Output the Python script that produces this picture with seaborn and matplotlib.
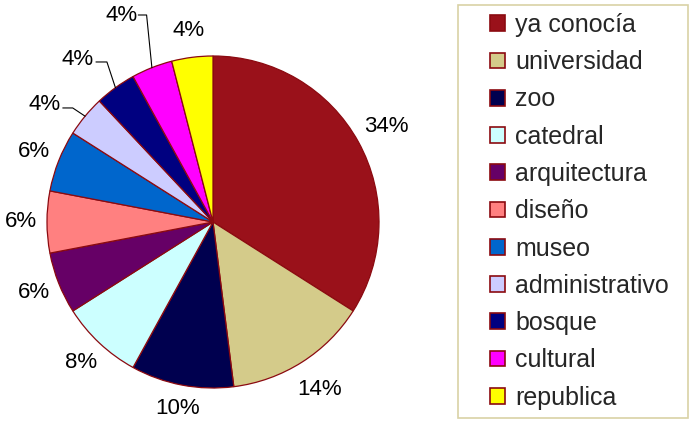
import numpy as np
import matplotlib
matplotlib.use("Agg")
import matplotlib.pyplot as plt
from matplotlib.patches import Patch, Rectangle
import seaborn as sns

categories = ["ya conocía", "universidad", "zoo", "catedral", "arquitectura", "diseño",
              "museo", "administrativo", "bosque", "cultural", "republica"]
values = [34, 14, 10, 8, 6, 6, 6, 4, 4, 4, 4]
colors = ["#9A111A", "#D4CB8A", "#00004F", "#CCFFFF", "#660066", "#FF8080",
          "#0066CC", "#CCCCFF", "#000080", "#FF00FF", "#FFFF00"]

sns.set_theme(style="white")
plt.rcParams["font.family"] = ["Liberation Sans", "DejaVu Sans"]

W, H = 690, 421
fig = plt.figure(figsize=(W / 100, H / 100), dpi=100)
cx, cy, r = 213, 421 - 222, 166
ax = fig.add_axes([(cx - r) / W, (cy - r) / H, 2 * r / W, 2 * r / H])

wedges, texts, autotexts = ax.pie(
    values, colors=colors, startangle=90, counterclock=False,
    autopct="%1.0f%%", pctdistance=1.16,
    wedgeprops=dict(edgecolor="#8B0A10", linewidth=0.9),
    textprops=dict(fontsize=16, color="black"))
for w in wedges:
    w.set_clip_on(False)
ax.set_xlim(-1, 1)
ax.set_ylim(-1, 1)
ax.set_aspect("equal")
ax.axis("off")

# slight radial nudges to match the reference placement
nudge = {0: 1.03, 1: 1.03, 2: 0.985}
for idx, f in nudge.items():
    x, y = autotexts[idx].get_position()
    autotexts[idx].set_position((x * f, y * f))

# leader-line labels: (index, text centre, line start, elbow) in radius units
leaders = [(7, (-1.012, 0.705), (-0.905, 0.687), (-0.845, 0.687)),
           (8, (-0.813, 0.976), (-0.705, 0.964), (-0.639, 0.964)),
           (9, (-0.548, 1.245), (-0.450, 1.247), (-0.400, 1.247))]
total = sum(values)
cum = np.cumsum([0] + values)
for idx, tpos, start, elbow in leaders:
    mid = np.deg2rad(90 - 360 * (cum[idx] + values[idx] / 2) / total)
    edge = (np.cos(mid), np.sin(mid))
    autotexts[idx].set_position(tpos)
    ax.plot([start[0], elbow[0], edge[0]], [start[1], elbow[1], edge[1]],
            color="black", lw=0.8, clip_on=False)

# legend frame
fig.patches.append(Rectangle((458 / W, 1 - 418 / H), 230 / W, 413 / H,
                             transform=fig.transFigure, fill=False,
                             edgecolor="#D9D2A6", linewidth=1.2))
handles = [Patch(facecolor=c, edgecolor="#8B0A10", linewidth=1.2) for c in colors]
fig.legend(handles, categories, loc="upper left",
           bbox_to_anchor=(485 / W, 1 - 8 / H), frameon=False,
           fontsize=18, handlelength=0.6, handleheight=0.6,
           handletextpad=0.4, labelspacing=0.53, borderaxespad=0, borderpad=0.2)

fig.savefig("out.png", dpi=100)
